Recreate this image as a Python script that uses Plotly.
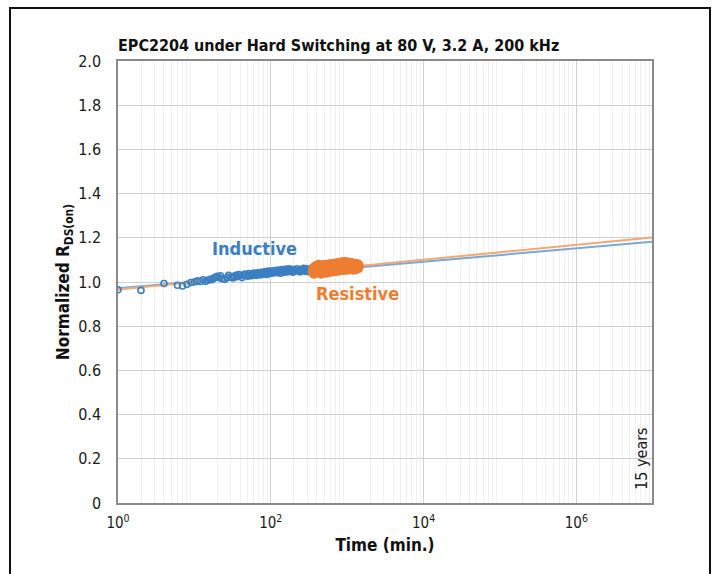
import plotly.graph_objects as go

title_text = "EPC2204 under Hard Switching at 80 V, 3.2 A, 200 kHz"

# Inductive (blue) measured points: time in minutes, normalized RDS(on)
ind_t = [1, 2, 4, 6, 7, 8, 9, 10, 11, 12, 13, 14, 15, 16, 17, 18, 19, 20, 21, 22, 23, 25, 27, 28, 30,
         32, 33, 35, 36, 38, 40, 42, 44, 46, 48, 50, 52, 54, 56, 58, 60, 63, 65, 68, 70, 73, 75, 78,
         80, 83, 85, 88, 90, 93, 95, 98, 100, 105, 110, 115, 120, 125, 130, 135, 140, 145, 150, 155,
         160, 165, 170, 175, 180, 185, 190, 195, 200, 210, 220, 230, 240, 250, 260, 270, 280, 290,
         300, 310, 320, 330, 340]
ind_v = [0.965, 0.962, 0.993, 0.985, 0.982, 0.99, 0.998, 1.0, 1.005, 1.002, 1.01, 1.003, 1.008, 1.012,
         1.01, 1.018, 1.022, 1.026, 1.02, 1.028, 1.015, 1.012, 1.02, 1.03, 1.022, 1.018, 1.026, 1.03,
         1.024, 1.034, 1.028, 1.02, 1.032, 1.036, 1.03, 1.026, 1.038, 1.032, 1.028, 1.036, 1.04, 1.034,
         1.03, 1.042, 1.038, 1.032, 1.044, 1.04, 1.036, 1.046, 1.04, 1.034, 1.048, 1.042, 1.038, 1.05,
         1.044, 1.04, 1.052, 1.046, 1.042, 1.054, 1.048, 1.04, 1.056, 1.05, 1.044, 1.058, 1.052, 1.046,
         1.06, 1.054, 1.048, 1.058, 1.05, 1.044, 1.056, 1.05, 1.06, 1.052, 1.046, 1.058, 1.05, 1.062,
         1.054, 1.048, 1.06, 1.052, 1.046, 1.056, 1.05]

# Resistive (orange) measured points
res_t = [360, 370, 380, 390, 400, 410, 420, 430, 440, 450, 460, 470, 480, 490, 500, 520, 540, 560,
         580, 600, 620, 640, 660, 680, 700, 720, 740, 760, 780, 800, 820, 840, 860, 880, 900, 930,
         960, 990, 1020, 1050, 1080, 1110, 1140, 1170, 1200, 1230, 1260, 1290, 1320, 1350, 1380, 1400,
         365, 395, 425, 455, 485, 530, 590, 650, 710, 770, 830, 890, 950, 1010, 1070, 1130, 1190, 1250,
         1310, 1370]
res_v = [1.05, 1.064, 1.044, 1.07, 1.056, 1.048, 1.068, 1.058, 1.046, 1.072, 1.06, 1.05, 1.074, 1.062,
         1.052, 1.076, 1.064, 1.054, 1.078, 1.066, 1.056, 1.08, 1.068, 1.058, 1.082, 1.07, 1.06, 1.084,
         1.072, 1.062, 1.086, 1.074, 1.064, 1.088, 1.076, 1.066, 1.088, 1.078, 1.068, 1.086, 1.076,
         1.066, 1.084, 1.074, 1.064, 1.082, 1.072, 1.062, 1.08, 1.07, 1.064, 1.074,
         1.04, 1.058, 1.076, 1.04, 1.066, 1.044, 1.048, 1.05, 1.052, 1.054, 1.058, 1.056, 1.086, 1.058,
         1.06, 1.078, 1.058, 1.06, 1.062, 1.078]

# Fit lines (endpoints of each trend line)
fit_t = [1, 1e7]
fit_ind = [0.972, 1.182]
fit_res = [0.966, 1.202]

y_ticks = [0, 0.2, 0.4, 0.6, 0.8, 1.0, 1.2, 1.4, 1.6, 1.8, 2.0]
y_labels = ["0", "0.2", "0.4", "0.6", "0.8", "1.0", "1.2", "1.4", "1.6", "1.8", "2.0"]
x_ticks = [1, 100, 10000, 1000000]
x_labels = ["10<sup>0</sup>", "10<sup>2</sup>", "10<sup>4</sup>", "10<sup>6</sup>"]

BLUE = "#3a7fc1"
ORANGE = "#ee7d31"
FONT = "DejaVu Sans Condensed"

fig = go.Figure()
fig.add_trace(go.Scatter(x=fit_t, y=fit_ind, mode="lines",
                         line=dict(color="#7aa9d8", width=2), showlegend=False))
fig.add_trace(go.Scatter(x=fit_t, y=fit_res, mode="lines",
                         line=dict(color="#f2a873", width=2), showlegend=False))
fig.add_trace(go.Scatter(x=ind_t, y=ind_v, mode="markers",
                         marker=dict(symbol="circle-open", size=6, color=BLUE, line=dict(width=1.6)),
                         showlegend=False))
fig.add_trace(go.Scatter(x=res_t, y=res_v, mode="markers",
                         marker=dict(symbol="circle", size=11, color=ORANGE, line=dict(width=0)),
                         showlegend=False))

minor_vals = [m * 10 ** d for d in range(0, 7) for m in range(2, 10)]

fig.update_layout(
    width=716, height=574,
    margin=dict(l=118, r=64, t=61, b=71),
    paper_bgcolor="white", plot_bgcolor="white",
    font=dict(family=FONT, size=15, color="#1a1a1a"),
    title=dict(text="<b>" + title_text + "</b>", x=118 / 716, xanchor="left",
               y=1 - 45 / 574, yanchor="middle", font=dict(size=16, family=FONT, color="#111")),
    xaxis=dict(type="log", range=[0, 6.99], tickvals=x_ticks, ticktext=x_labels,
               showgrid=True, gridcolor="#d0d0d0", gridwidth=1,
               minor=dict(tickvals=minor_vals, showgrid=True, gridcolor="#f0f0f0", gridwidth=1, ticks=""),
               showline=True, linecolor="#8a8a8a", linewidth=2, mirror=True,
               ticks="", ticklabelstandoff=5, zeroline=False,
               tickfont=dict(size=15, family=FONT, color="#1a1a1a"),
               title=dict(text="<b>Time (min.)</b>", standoff=8,
                          font=dict(size=17, family=FONT, color="#111"))),
    yaxis=dict(range=[0, 2.0], tickvals=y_ticks, ticktext=y_labels,
               showgrid=True, gridcolor="#d0d0d0", gridwidth=1,
               showline=True, linecolor="#8a8a8a", linewidth=1.5, mirror=True,
               ticks="", ticklabelstandoff=12, zeroline=False,
               tickfont=dict(size=16, family=FONT, color="#1a1a1a"),
               title=dict(text="<b>Normalized R<sub>DS(on)</sub></b>", standoff=4,
                          font=dict(size=17, family=FONT, color="#111"))),
)

fig.add_annotation(x=1.79, y=1.15, xref="x", yref="y", text="<b>Inductive</b>", showarrow=False,
                   font=dict(size=18, family=FONT, color=BLUE))
fig.add_annotation(x=3.13, y=0.95, xref="x", yref="y", text="<b>Resistive</b>", showarrow=False,
                   font=dict(size=18, family=FONT, color=ORANGE))
fig.add_annotation(x=6.86, y=0.20, xref="x", yref="y", text="15 years", showarrow=False, textangle=-90,
                   font=dict(size=16, family=FONT, color="#1a1a1a"))

# outer frame
fig.add_shape(type="rect", xref="paper", yref="paper",
              x0=(10 - 118) / 534, x1=(710 - 118) / 534,
              y0=-0.2, y1=1 + (61 - 8) / 442,
              line=dict(color="#111", width=2), fillcolor="rgba(0,0,0,0)", layer="below")

fig.write_html("out.html")
